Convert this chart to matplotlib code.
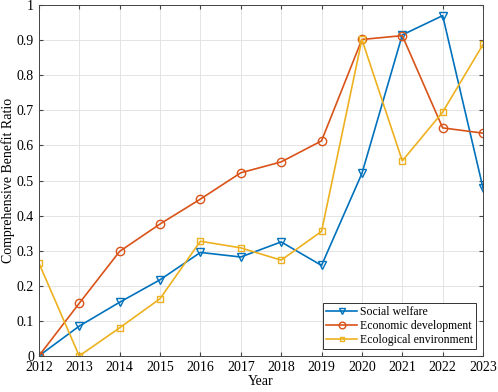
import numpy as np
import matplotlib
matplotlib.use('Agg')
import matplotlib.pyplot as plt

plt.rcParams['font.family'] = ['Liberation Serif', 'DejaVu Serif']

# data
years = [2012, 2013, 2014, 2015, 2016, 2017, 2018, 2019, 2020, 2021, 2022, 2023]
social = [0.0, 0.085, 0.153, 0.217, 0.295, 0.282, 0.325, 0.258, 0.52, 0.915, 0.97, 0.478]
economic = [0.0, 0.15, 0.298, 0.376, 0.447, 0.522, 0.553, 0.613, 0.902, 0.913, 0.65, 0.635]
ecological = [0.265, 0.0, 0.08, 0.163, 0.327, 0.308, 0.273, 0.355, 0.902, 0.556, 0.695, 0.888]
ytick_labels = ['0', '0.1', '0.2', '0.3', '0.4', '0.5', '0.6', '0.7', '0.8', '0.9', '1']

fig = plt.figure(figsize=(4.98, 3.92), dpi=100)
ax = fig.add_axes([0.078, 0.092, 0.892, 0.895])

ax.plot(years, social, color='#0072BD', marker='v', mfc='none', ms=6, lw=1.2, label='Social welfare')
ax.plot(years, economic, color='#D95319', marker='o', mfc='none', ms=6, lw=1.2, label='Economic development')
ax.plot(years, ecological, color='#EDB120', marker='s', mfc='none', ms=4, lw=1.2, label='Ecological environment')

ax.set_xlim(2012, 2023)
ax.set_ylim(0, 1)
ax.set_xticks(years)
ax.set_yticks(np.linspace(0, 1, 11))
ax.set_yticklabels(ytick_labels)
ax.tick_params(direction='in', top=True, right=True, labelsize=10, length=3, color='#444444')
ax.grid(True, color='#e4e4e4', lw=0.7)
ax.set_axisbelow(True)
for s in ax.spines.values():
    s.set_color('#444444')
    s.set_linewidth(0.7)

ax.set_xlabel('Year', fontsize=10, labelpad=1)
ax.set_ylabel('Comprehensive Benefit Ratio', fontsize=10, labelpad=1)

leg = ax.legend(loc='lower right', fontsize=8.5, fancybox=False, edgecolor='#333333',
                framealpha=1, borderaxespad=0.6, handlelength=2.6, labelspacing=0.15,
                borderpad=0.25, handletextpad=0.25, markerscale=0.8)
leg.get_frame().set_linewidth(0.7)

fig.savefig('out.png', dpi=100)
